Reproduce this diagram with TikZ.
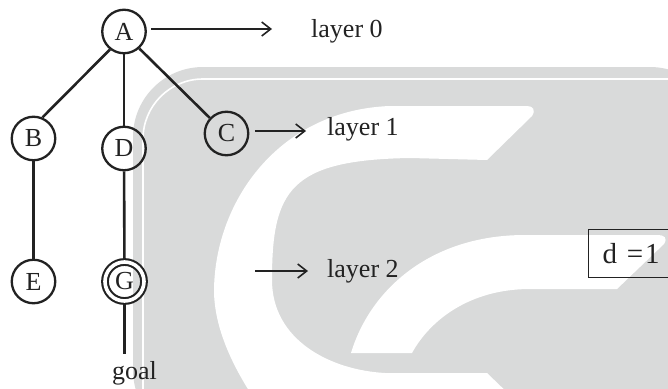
\documentclass[tikz,border=0pt]{standalone}
\usepackage{fontspec}
\setmainfont{Liberation Serif}
\usetikzlibrary{arrows.meta}
\definecolor{ink}{HTML}{222222}
\definecolor{wmgray}{HTML}{D9DADA}
\tikzset{
  state/.style={circle, draw=ink, line width=2.3pt, minimum size=43.5pt, inner sep=0pt,
    font=\fontsize{26}{31}\selectfont, text=ink},
  goalstate/.style={state, minimum size=39pt, line width=2.1pt, double=white, double distance=3.6pt, outer sep=4pt},
  treeedge/.style={draw=ink, line width=2.6pt},
  layerarrow/.style={draw=ink, line width=1.6pt, -{Straight Barb[length=9pt, width=14pt]}},
  labeltext/.style={font=\fontsize{26}{31}\selectfont, text=ink, inner sep=0pt, anchor=base west},
  dbox/.style={draw=ink, line width=1.3pt, minimum height=48pt, text width=90pt, align=left,
    inner xsep=14pt, inner ysep=0pt, font=\fontsize{29}{34}\selectfont, text=ink}
}
\begin{document}
\begin{tikzpicture}[x=1pt, y=-1pt]
\useasboundingbox (0,0) rectangle (668,388);

% background emblem
\begin{scope}
  \clip (0,0) rectangle (668,388);
  \fill[wmgray, rounded corners=70pt] (133,440) -- (133,67) -- (720,67) -- (720,440) -- cycle;
  \draw[white, line width=1.6pt, rounded corners=60pt] (143,440) -- (143,79) -- (720,79);
  % outer band
  \fill[white] (527,106) -- (390,106)
    .. controls (280,110) and (215,200) .. (214,290)
    .. controls (214,330) and (235,370) .. (255,400)
    -- (515,400) -- (487,373) -- (385,373)
    .. controls (330,370) and (272,340) .. (272,280)
    .. controls (272,190) and (290,160) .. (410,158)
    -- (487,160) -- (532,116)
    .. controls (536,110) and (533,106) .. (527,106) -- cycle;
  % inner band
  \fill[white] (351,353) -- (412,353)
    .. controls (430,320) and (470,289) .. (530,289)
    -- (617,289) -- (664,244)
    .. controls (668,238) and (664,235) .. (658,235)
    -- (525,235)
    .. controls (430,235) and (370,290) .. (351,353) -- cycle;
\end{scope}

% search tree
\node[state] (A) at (124,31.5) {A};
\node[state] (B) at (33.5,138.5) {B};
\node[state] (D) at (124,148.5) {D};
\node[state] (C) at (226.5,133.5) {C};
\node[state] (E) at (33.5,281.5) {E};
\node[goalstate] (G) at (124.5,281.5) {G};
\coordinate (gend) at (124.5,354);

\draw[treeedge] (A.232) -- (B.67);
\draw[treeedge] (A) -- (D);
\draw[treeedge] (A.312) -- (C.137);
\draw[treeedge] (B) -- (E);
\draw[treeedge] (D) -- (G);
\draw[treeedge] (G) -- (gend);
\node[labeltext, anchor=base] (goal) at (134.5,379) {goal};

% layer markers
\coordinate (t0) at (272,29);
\coordinate (t1) at (306,131);
\coordinate (s2) at (255,271);
\coordinate (t2) at (308,271);
\draw[layerarrow, shorten <=4.5pt] (A.east |- t0) -- (t0);
\draw[layerarrow, shorten <=5.5pt] (C.east |- t1) -- (t1);
\draw[layerarrow] (s2) -- (t2);
\node[labeltext] (L0) at (311,37) {layer 0};
\node[labeltext] (L1) at (327,135) {layer 1};
\node[labeltext] (L2) at (327,277) {layer 2};

% depth limit
\node[dbox, anchor=north west] (depth) at (588,229) {d =\hspace{2pt}1};
\end{tikzpicture}
\end{document}
